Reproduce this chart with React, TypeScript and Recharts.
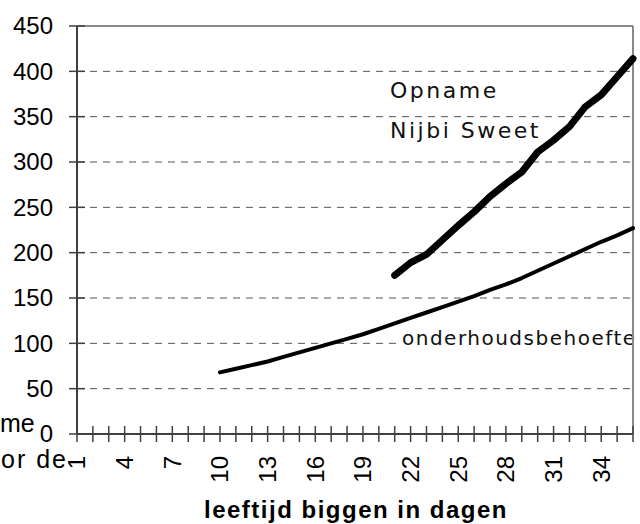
import React from 'react';
import { LineChart, Line, XAxis, YAxis, CartesianGrid, ReferenceLine, Customized } from 'recharts';

const days = [1, 2, 3, 4, 5, 6, 7, 8, 9, 10, 11, 12, 13, 14, 15, 16, 17, 18, 19, 20, 21, 22, 23, 24, 25, 26, 27, 28, 29, 30, 31, 32, 33, 34, 35, 36];
const xLabelDays = [1, 4, 7, 10, 13, 16, 19, 22, 25, 28, 31, 34];
const yTicks = [0, 50, 100, 150, 200, 250, 300, 350, 400, 450];

// Opname Nijbi Sweet (days 21-36)
const opname: (number | null)[] = [
  null, null, null, null, null, null, null, null, null, null,
  null, null, null, null, null, null, null, null, null, null,
  175, 189, 198, 214, 230, 245, 262, 276, 289, 311, 324, 339, 361, 374, 394, 414,
];

// onderhoudsbehoefte (days 10-36)
const onderhoud: (number | null)[] = [
  null, null, null, null, null, null, null, null, null,
  68, 72, 76, 80, 85, 90, 95, 100, 105, 110, 116, 122, 128, 134, 140, 146, 152, 159,
  165, 172, 180, 188, 196, 204, 212, 219, 227,
];

const data = days.map((d, i) => ({ day: d, opname: opname[i], onderhoud: onderhoud[i] }));

const FONT = 'Liberation Sans, Arial, sans-serif';
const AXIS = '#404040';

const XTick = (props: any) => {
  const { x, y, payload } = props;
  const v = payload.value;
  const ty = y + 22;
  return (
    <g>
      <line x1={x} x2={x} y1={y - 8} y2={y + 8} stroke={AXIS} strokeWidth={1.5} />
      {xLabelDays.includes(v) && (
        <text
          x={x}
          y={ty}
          dy="0.35em"
          transform={`rotate(-90 ${x} ${ty})`}
          textAnchor="end"
          fontFamily={FONT}
          fontSize={24}
          fill="#000"
        >
          {v}
        </text>
      )}
    </g>
  );
};

const YTick = (props: any) => {
  const { x, y, payload } = props;
  return (
    <g>
      <line x1={x - 8} x2={x + 8} y1={y} y2={y} stroke={AXIS} strokeWidth={1.5} />
      <text x={x - 24} y={y} dy="0.35em" textAnchor="end" fontFamily={FONT} fontSize={24} fill="#000">
        {payload.value}
      </text>
    </g>
  );
};

const Annotations = () => (
  <g>
    <text x={390} y={98} fontFamily="DejaVu Sans" fontSize={22} letterSpacing={2.5} fill="#111">
      Opname
    </text>
    <text x={390} y={138} fontFamily="DejaVu Sans" fontSize={22} letterSpacing={2.5} fill="#111">
      Nijbi Sweet
    </text>
    <rect x={399} y={327} width={231} height={22} fill="#fff" />
    <text x={402} y={345} fontFamily="DejaVu Sans" fontSize={20} letterSpacing={1.5} fill="#111">
      onderhoudsbehoefte
    </text>
    <text x={356} y={518} textAnchor="middle" fontFamily={FONT} fontSize={24} fontWeight="bold" letterSpacing={1.5} fill="#000">
      leeftijd biggen in dagen
    </text>
    <text x={0} y={432} fontFamily={FONT} fontSize={25} fill="#000">
      me
    </text>
    <text x={1} y={468} fontFamily={FONT} fontSize={25} letterSpacing={2} fill="#000">
      or de
    </text>
  </g>
);

export default function App() {
  return (
    <div style={{ position: 'absolute', left: 0, top: 0, background: '#fff' }}>
      <LineChart width={640} height={524} data={data} margin={{ top: 26, right: 7, bottom: 0, left: 0 }}>
        <CartesianGrid horizontal vertical={false} stroke="#555" strokeDasharray="7 6" />
        <XAxis
          dataKey="day"
          type="number"
          domain={[1, 36]}
          ticks={days}
          interval={0}
          height={90}
          tickSize={0}
          tickMargin={0}
          tick={<XTick />}
          tickLine={false}
          axisLine={{ stroke: AXIS, strokeWidth: 2 }}
        />
        <YAxis
          type="number"
          domain={[0, 450]}
          ticks={yTicks}
          interval={0}
          width={77}
          tickSize={0}
          tickMargin={0}
          tick={<YTick />}
          tickLine={false}
          axisLine={{ stroke: AXIS, strokeWidth: 2 }}
        />
        <ReferenceLine y={450} stroke="#888" strokeWidth={2} />
        <ReferenceLine x={36} stroke="#888" strokeWidth={2} />
        <Customized component={Annotations} />
        <Line
          dataKey="onderhoud"
          stroke="#000"
          strokeWidth={4}
          dot={false}
          activeDot={false}
          strokeLinecap="round"
          strokeLinejoin="round"
          isAnimationActive={false}
        />
        <Line
          dataKey="opname"
          stroke="#000"
          strokeWidth={7}
          dot={false}
          activeDot={false}
          strokeLinecap="round"
          strokeLinejoin="round"
          isAnimationActive={false}
        />
      </LineChart>
    </div>
  );
}
